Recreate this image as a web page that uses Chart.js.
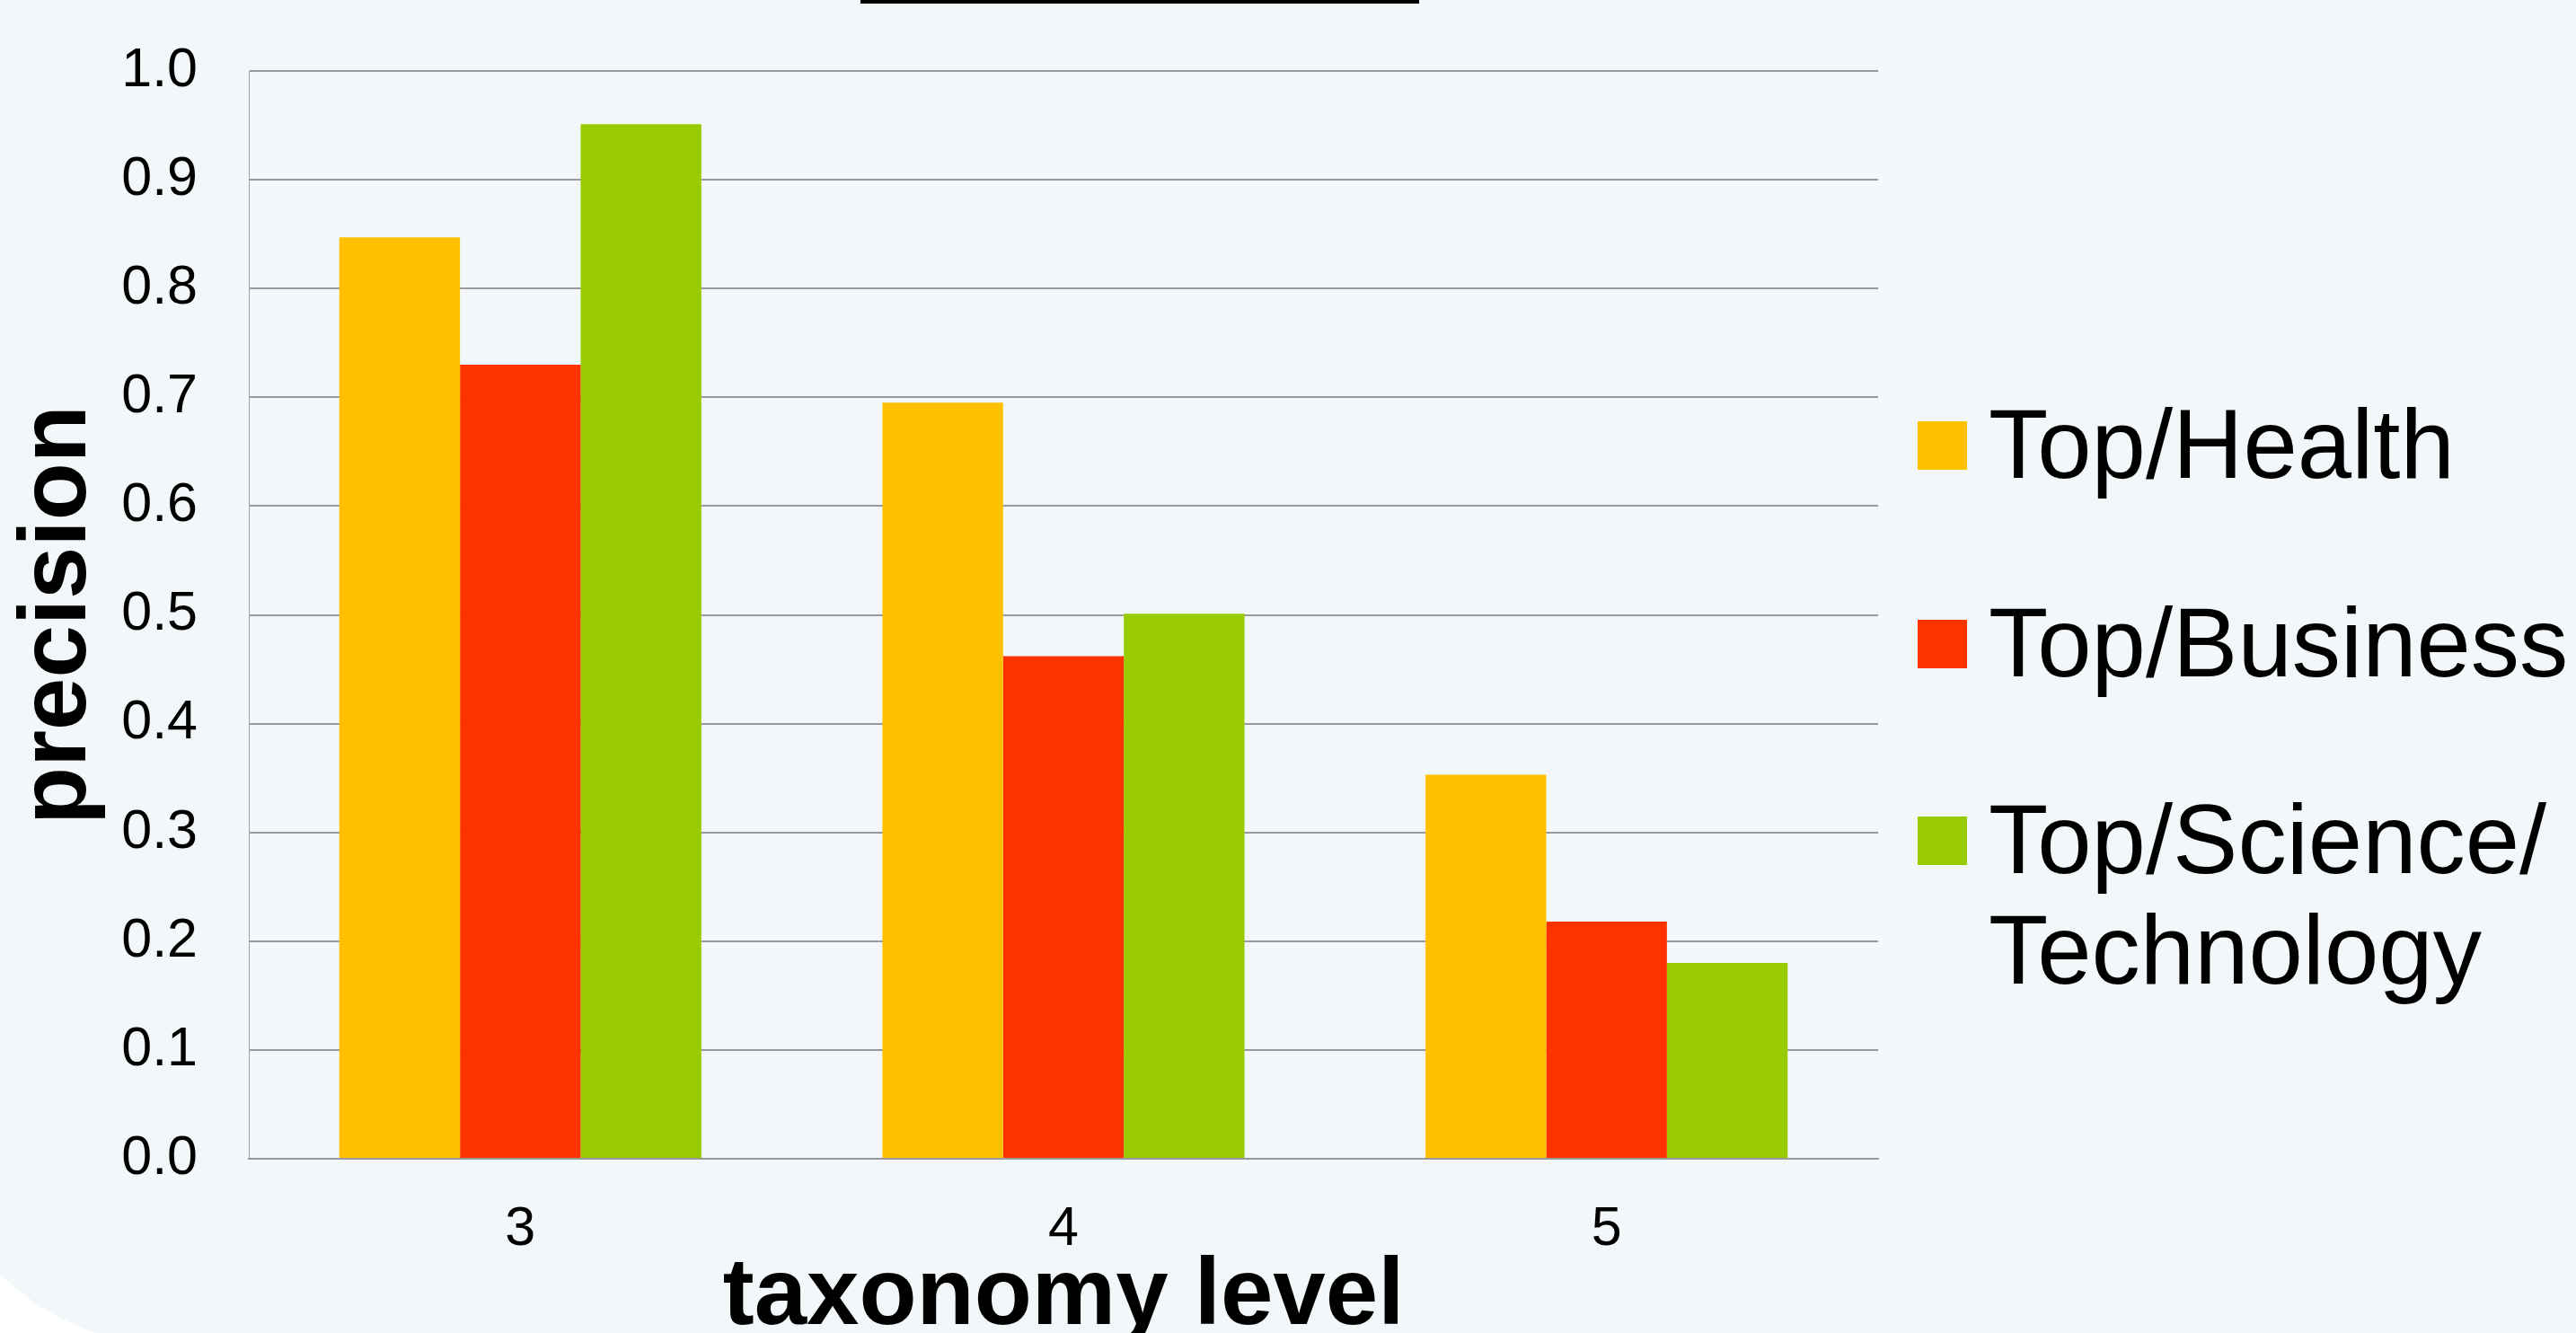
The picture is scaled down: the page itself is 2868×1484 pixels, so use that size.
<!DOCTYPE html>
<html>
<head>
<meta charset="utf-8">
<script src="https://cdn.jsdelivr.net/npm/chart.js@4"></script>
<style>
  html, body { margin: 0; padding: 0; background: #ffffff; overflow: hidden; }
  #page { position: relative; width: 2868px; height: 1484px; overflow: hidden; }
  #bg {
    position: absolute; left: -68px; top: 0; width: 3000px; height: 1494px;
    background: #f2f7fa; border-bottom-left-radius: 247px;
  }
  #topbar { position: absolute; left: 958px; top: 0; width: 622px; height: 4px; background: #000; }
  #chart { position: absolute; left: 0; top: 0; }
  #legend { position: absolute; left: 2135px; top: 0; font-family: "Liberation Sans", Arial, sans-serif; }
  .item { position: absolute; left: 0; width: 740px; }
  .box { position: absolute; left: 0; width: 55px; height: 54px; }
  .txt { position: absolute; left: 79px; width: 660px; font-size: 108.5px; line-height: 123px; color: #000; }
</style>
</head>
<body>
<div id="page">
  <div id="bg"></div>
  <div id="topbar"></div>
  <canvas id="chart" width="2868" height="1484"></canvas>
  <div id="legend"></div>
</div>
<script>
// data
const levels = ['3', '4', '5'];
const seriesNames = ['Top/Health', 'Top/Business', 'Top/Science/Technology'];
const health = [0.847, 0.695, 0.353];
const business = [0.730, 0.462, 0.218];
const scienceTech = [0.951, 0.501, 0.180];
const yTicks = [0.0, 0.1, 0.2, 0.3, 0.4, 0.5, 0.6, 0.7, 0.8, 0.9, 1.0];
const colors = ['#ffc000', '#ff3300', '#99cc00'];

Chart.defaults.font.family = '"Liberation Sans", Arial, sans-serif';
Chart.defaults.color = '#000';

const ctx = document.getElementById('chart').getContext('2d');
const chart = new Chart(ctx, {
    type: 'bar',
    data: {
        labels: levels,
        datasets: [
            { label: seriesNames[0], data: health, backgroundColor: colors[0] },
            { label: seriesNames[1], data: business, backgroundColor: colors[1] },
            { label: seriesNames[2], data: scienceTech, backgroundColor: colors[2] }
        ]
    },
    options: {
        responsive: false,
        animation: false,
        devicePixelRatio: 1,
        categoryPercentage: 3 / 4.5,
        barPercentage: 1.0,
        layout: { padding: { top: 79, right: 777, left: 0, bottom: 0 } },
        plugins: {
            legend: { display: false },
            tooltip: { enabled: false }
        },
        scales: {
            x: {
                grid: { display: false, drawTicks: false },
                border: { display: true, color: '#999999', width: 2 },
                ticks: { font: { size: 61 }, padding: 43 },
                title: {
                    display: true,
                    text: 'taxonomy level',
                    font: { size: 105, weight: 'bold', lineHeight: 0.75 },
                    padding: { top: 0, bottom: 0 }
                },
                afterFit: s => {
                    s.height = 194;
                    s.paddingLeft = 0;
                    s.paddingRight = 0;
                }
            },
            y: {
                min: 0,
                max: 1,
                afterBuildTicks: s => { s.ticks = yTicks.map(v => ({ value: v })); },
                grid: { color: '#9a9a9a', lineWidth: 2, drawTicks: false },
                border: { display: true, color: '#a0a0a0', width: 1 },
                ticks: {
                    font: { size: 61 },
                    padding: 57,
                    callback: v => v.toFixed(1)
                },
                title: {
                    display: true,
                    text: 'precision',
                    font: { size: 105, weight: 'bold', lineHeight: 0.9 },
                    padding: { top: 19, bottom: 0 }
                },
                afterFit: s => {
                    s.width = 277;
                    s.paddingTop = 0;
                    s.paddingBottom = 0;
                }
            }
        }
    }
});

// legend on the right, built from the datasets
const legendTops = [433, 654, 873];
const legend = document.getElementById('legend');
chart.data.datasets.forEach((ds, i) => {
    const item = document.createElement('div');
    item.className = 'item';
    item.style.top = legendTops[i] + 'px';
    const box = document.createElement('div');
    box.className = 'box';
    box.style.top = (98 - 62) + 'px';
    box.style.background = ds.backgroundColor;
    const txt = document.createElement('div');
    txt.className = 'txt';
    txt.style.top = '0px';
    txt.innerHTML = ds.label.split('/').join('/<wbr>');
    item.appendChild(box);
    item.appendChild(txt);
    legend.appendChild(item);
});
</script>
</body>
</html>
